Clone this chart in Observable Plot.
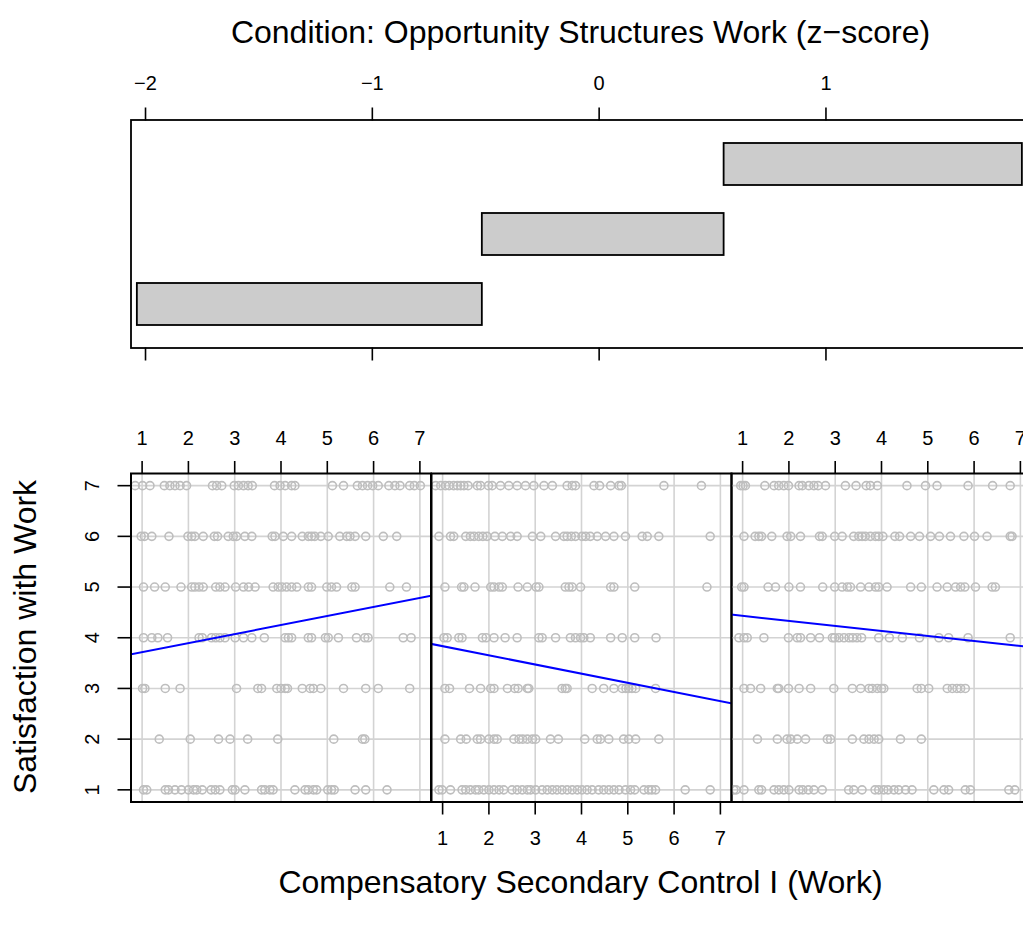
<!DOCTYPE html>
<html>
<head>
<meta charset="utf-8">
<script src="https://cdn.jsdelivr.net/npm/d3@7"></script>
<script src="https://cdn.jsdelivr.net/npm/@observablehq/plot@0.6"></script>
<style>
  html, body { margin: 0; padding: 0; background: #fff; overflow: hidden; }
  #fig { position: relative; width: 1100px; height: 934px; font-family: "Liberation Sans", Arial, Helvetica, sans-serif; color: #000; }
  #fig > * { position: absolute; }
  #fig svg { font-family: "Liberation Sans", Arial, Helvetica, sans-serif; font-size: 20px; }
  #fig svg text { font-size: 20px; fill: #000; }
  .lab { font-size: 32px; line-height: 32px; white-space: nowrap; text-align: center; }
</style>
</head>
<body>
<div id="fig"></div>
<script>
// ---- text ----
const givenTitle = "Condition: Opportunity Structures Work (z\u2212score)";
const xTitle = "Compensatory Secondary Control I (Work)";
const yTitle = "Satisfaction with Work";

// ---- conditioning intervals (z-score of opportunity structures) ----
const intervalRow = [1, 2, 3];
const intervalLow = [-2.036, -0.515, 0.551];
const intervalHigh = [-0.515, 0.551, 1.866];
const givenTicks = [-2, -1, 0, 1];

// ---- scatter panels ----
const scaleTicks = [1, 2, 3, 4, 5, 6, 7];
const satisfactionLevels = [1, 2, 3, 4, 5, 6, 7];

// control scores per satisfaction level (index 0 = level 1 ... index 6 = level 7)
const panelLow = [
  [1.03,1.10,1.50,1.57,1.71,1.85,2.00,2.11,2.18,2.30,2.49,2.58,2.68,2.95,3.01,3.22,3.58,3.65,3.76,3.83,4.30,4.52,4.59,4.70,4.77,5.01,5.09,5.15,5.60,5.83,6.29],
  [1.37,2.04,2.65,2.90,3.28,3.93,5.14,5.76,5.81],
  [1.01,1.06,1.50,1.82,3.04,3.50,3.58,3.91,4.00,4.09,4.14,4.46,4.63,4.70,4.86,5.35,5.83,6.10,6.78],
  [1.03,1.21,1.34,1.55,2.23,2.30,2.50,2.59,2.68,2.79,3.01,3.19,3.37,3.64,4.09,4.16,4.23,4.59,4.66,4.96,5.02,5.24,5.63,5.81,5.88,6.64,6.81],
  [1.03,1.27,1.50,1.84,2.07,2.14,2.23,2.32,2.59,2.68,2.79,3.02,3.19,3.30,3.44,3.83,3.94,4.02,4.12,4.23,4.34,4.59,4.66,4.99,5.09,5.20,5.53,5.60,6.35,6.71],
  [0.98,1.05,1.21,1.58,1.99,2.07,2.14,2.32,2.56,2.63,2.86,2.97,3.04,3.22,3.37,3.81,3.87,4.05,4.23,4.46,4.59,4.66,4.73,4.86,5.02,5.27,5.42,5.49,5.60,5.83,6.21,6.50],
  [0.85,1.01,1.17,1.48,1.60,1.71,1.82,1.96,2.52,2.61,2.72,2.99,3.08,3.19,3.29,3.38,3.86,3.98,4.09,4.23,4.30,5.11,5.35,5.65,5.76,5.87,5.98,6.10,6.33,6.46,6.57,6.78,6.88,7.01]
];
const panelMid = [
  [0.92,0.99,1.17,1.42,1.50,1.60,1.71,1.78,1.89,2.00,2.11,2.22,2.32,2.50,2.61,2.72,2.83,2.90,3.01,3.15,3.26,3.37,3.47,3.58,3.69,3.80,3.91,4.01,4.12,4.23,4.37,4.48,4.59,4.70,4.81,4.95,5.06,5.15,5.35,5.45,5.52,5.60,6.24,6.78],
  [1.05,1.39,1.51,1.75,1.82,2.00,2.11,2.18,2.54,2.65,2.73,2.83,2.94,3.01,3.33,3.50,4.07,4.34,4.41,4.59,4.91,5.02,5.17,5.67],
  [1.05,1.15,1.58,1.82,2.04,2.11,2.40,2.56,2.63,2.83,2.86,3.58,3.65,3.69,4.23,4.48,4.70,4.88,4.96,5.02,5.09,5.17,5.60],
  [1.03,1.10,1.35,1.42,1.86,1.94,2.11,2.35,2.61,3.08,3.15,3.44,3.76,3.87,3.98,4.05,4.19,4.63,4.88,5.15,5.61],
  [1.05,1.41,1.46,1.70,2.04,2.11,2.22,2.29,2.63,2.83,3.02,3.08,3.65,3.73,3.80,3.98,4.63,4.70,5.15,6.71],
  [0.92,1.17,1.24,1.50,1.60,1.68,1.78,1.87,1.96,2.13,2.29,2.47,2.61,2.94,3.12,3.44,3.62,3.69,3.78,3.87,4.01,4.09,4.19,4.34,4.52,4.70,4.95,5.31,5.42,5.67,6.78],
  [0.85,0.96,1.06,1.14,1.24,1.32,1.39,1.46,1.55,1.75,1.82,1.99,2.07,2.25,2.43,2.61,2.79,2.97,3.19,3.37,3.69,3.80,3.87,4.27,4.39,4.63,4.81,4.86,5.78,6.59]
];
const panelHigh = [
  [0.81,0.86,1.03,1.35,1.41,1.68,1.78,1.89,2.00,2.22,2.30,2.42,2.54,2.72,3.29,3.40,3.58,3.86,3.94,4.05,4.14,4.27,4.37,4.52,4.66,5.13,5.35,5.45,5.81,5.92,6.75,6.88],
  [1.32,1.75,1.96,2.04,2.18,2.36,2.83,2.90,3.37,3.62,3.73,3.84,3.94,4.41,4.86],
  [1.03,1.17,1.39,1.75,1.78,1.99,2.22,2.47,2.97,3.37,3.55,3.73,3.80,3.91,4.00,4.05,4.77,4.86,5.02,5.42,5.53,5.63,5.71,5.81],
  [0.92,1.03,1.10,1.46,1.99,2.18,2.25,2.47,2.66,2.94,2.99,3.08,3.19,3.30,3.38,3.47,3.57,3.94,4.17,4.45,4.82,5.24,5.45,5.87,6.78],
  [0.98,1.03,1.55,1.71,2.00,2.25,2.73,2.99,3.15,3.26,3.33,3.55,3.73,3.87,3.94,4.12,4.63,4.86,5.20,5.42,5.60,5.71,5.80,6.03,6.39,6.46],
  [1.03,1.27,1.35,1.41,1.63,1.96,2.04,2.25,2.66,2.72,2.99,3.15,3.40,3.51,3.58,3.65,3.76,3.87,3.94,4.03,4.29,4.39,4.63,4.82,5.06,5.25,5.49,5.78,6.01,6.28,6.78,6.82],
  [0.96,1.01,1.06,1.48,1.68,1.78,1.89,1.99,2.22,2.29,2.43,2.54,2.63,2.79,3.22,3.45,3.67,3.76,3.91,4.55,4.95,5.20,5.87,6.40,6.78]
];
const panels = [panelLow, panelMid, panelHigh];

// least-squares line in each panel: satisfaction = intercept + slope * control
const lineIntercept = [3.537, 4.015, 4.531];
const lineSlope = [0.1785, -0.1809, -0.0989];

// ---- layout ----
const fig = document.getElementById("fig");
const FONT = '"Liberation Sans", Arial, Helvetica, sans-serif';
const svgStyle = { fontSize: "20px", fontFamily: FONT, background: "none", overflow: "visible", maxWidth: "none", color: "#000" };
const fmt = d3.format("d");
const tickText = { fontSize: 20, fontFamily: FONT, label: null, strokeWidth: 1.6 };
const place = (el, left, top) => { el.style.left = left + "px"; el.style.top = top + "px"; fig.appendChild(el); };
const label = (text, left, top, width, rotate) => {
  const d = document.createElement("div");
  d.className = "lab";
  d.textContent = text;
  d.style.width = width + "px";
  if (rotate) d.style.transform = "rotate(-90deg)";
  place(d, left, top);
};

// given panel: one bar per conditioning interval
const given = Plot.plot({
  width: 1100, height: 360,
  marginTop: 119.5, marginBottom: 12.5, marginLeft: 130.5, marginRight: 69.5,
  style: svgStyle,
  x: { domain: [-2.064, 1.904], axis: null },
  y: { domain: [3, 2, 1], padding: 0.4, paddingOuter: 0.32, axis: null },
  marks: [
    Plot.barX(intervalRow, { y: d => d, x1: (d, i) => intervalLow[i], x2: (d, i) => intervalHigh[i], fill: "#cccccc", stroke: "#000", strokeWidth: 1.8 }),
    Plot.frame({ stroke: "#000", strokeWidth: 1.8 }),
    Plot.axisX(givenTicks, { ...tickText, anchor: "top", tickSize: 13, tickPadding: 17, tickFormat: fmt }),
    Plot.axisX(givenTicks, { ...tickText, anchor: "bottom", tickSize: 13, tickFormat: () => "" })
  ]
});
place(given, 0, 0);

// three dependence panels, left to right by interval
const PW = 300, FRAME_L = 130.5, TOP = 380, FRAME_T = 473, FRAME_B = 801.5;
panels.forEach((rows, i) => {
  const pts = rows.flatMap((row, k) => row.map(x => ({ x, y: satisfactionLevels[k] })));
  const fit = [0, 8].map(x => ({ x, y: lineIntercept[i] + lineSlope[i] * x }));
  const ml = i === 0 ? FRAME_L : 10, mr = 10;
  const axes = [];
  if (i !== 1) axes.push(Plot.axisX(scaleTicks, { ...tickText, anchor: "top", tickSize: 13, tickPadding: 16, tickFormat: fmt }));
  else axes.push(Plot.axisX(scaleTicks, { ...tickText, anchor: "bottom", tickSize: 13, tickPadding: 16, tickFormat: fmt }));
  if (i === 0) axes.push(Plot.axisY(scaleTicks, { ...tickText, anchor: "left", tickSize: 13, tickPadding: 19, tickRotate: -90, tickFormat: fmt }));
  const p = Plot.plot({
    width: ml + PW + mr, height: 500,
    marginTop: FRAME_T - TOP, marginBottom: TOP + 500 - FRAME_B, marginLeft: ml, marginRight: mr,
    style: svgStyle,
    x: { domain: [0.76, 7.24], axis: null },
    y: { domain: [0.76, 7.24], axis: null },
    marks: [
      Plot.gridX(scaleTicks, { stroke: "#d3d3d3", strokeOpacity: 1, strokeWidth: 1.6 }),
      Plot.gridY(scaleTicks, { stroke: "#d3d3d3", strokeOpacity: 1, strokeWidth: 1.6 }),
      Plot.dot(pts, { x: "x", y: "y", r: 4.0, stroke: "#bebebe", strokeWidth: 1.6, clip: true }),
      Plot.line(fit, { x: "x", y: "y", stroke: "blue", strokeWidth: 2, clip: true }),
      Plot.frame({ stroke: "#000", strokeWidth: 2 }),
      ...axes
    ]
  });
  place(p, FRAME_L + PW * i - ml, TOP);
});

// titles
label(givenTitle, 0, 16.4, 1161, false);
label(xTitle, 0, 866.4, 1161, false);
label(yTitle, 25.4 - 350, 636.7 - 16, 700, true);
</script>
</body>
</html>
